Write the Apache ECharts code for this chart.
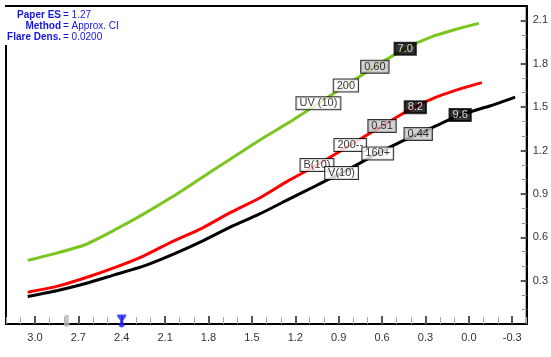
<!DOCTYPE html>
<html><head><meta charset="utf-8">
<script src="https://cdn.jsdelivr.net/npm/echarts@6/dist/echarts.min.js"></script>
<style>html,body{margin:0;padding:0;background:#fff}#c{width:551px;height:357px}</style>
</head><body><div id="c"></div>
<script>
// ---- data ----
const uvX = [3.05, 2.85, 2.65, 2.45, 2.25, 2.05, 1.85, 1.65, 1.45, 1.25, 1.05, 0.85, 0.65, 0.45, 0.25, 0.05, -0.07];
const uvY = [0.44, 0.49, 0.55, 0.65, 0.76, 0.88, 1.01, 1.14, 1.27, 1.39, 1.52, 1.65, 1.78, 1.90, 1.99, 2.05, 2.08];
const bX = [3.05, 2.85, 2.65, 2.45, 2.25, 2.05, 1.85, 1.65, 1.45, 1.25, 1.05, 0.85, 0.65, 0.45, 0.25, 0.05, -0.09];
const bY = [0.22, 0.26, 0.32, 0.39, 0.47, 0.57, 0.66, 0.77, 0.87, 0.99, 1.10, 1.22, 1.34, 1.46, 1.56, 1.63, 1.67];
const vX = [3.05, 2.85, 2.65, 2.45, 2.25, 2.05, 1.85, 1.65, 1.45, 1.25, 1.05, 0.85, 0.65, 0.45, 0.25, 0.05, -0.15, -0.32];
const vY = [0.19, 0.23, 0.28, 0.34, 0.40, 0.48, 0.57, 0.67, 0.76, 0.86, 0.96, 1.06, 1.17, 1.27, 1.36, 1.45, 1.51, 1.57];

const uvTags = [[1.04, 'UV (10)', 'w'], [0.85, '200', 'w'], [0.65, '0.60', 'g'], [0.44, '7.0', 'k']];
const bTags  = [[1.05, 'B(10)', 'w'], [0.82, '200--', 'w'], [0.60, '0.51', 'g'], [0.37, '8.2', 'k']];
const vTags  = [[0.88, 'V(10)', 'w'], [0.63, '160+', 'w'], [0.35, '0.44', 'g'], [0.06, '9.6', 'k']];

const xMajorTicks = [3.0, 2.7, 2.4, 2.1, 1.8, 1.5, 1.2, 0.9, 0.6, 0.3, 0.0, -0.3];
const xMinorTicks = [3.2, 3.1, 2.9, 2.8, 2.6, 2.5, 2.3, 2.2, 2.0, 1.9, 1.7, 1.6, 1.4, 1.3, 1.1, 1.0, 0.8, 0.7, 0.5, 0.4, 0.2, 0.1, -0.1, -0.2, -0.4];
const yMajorTicks = [0.3, 0.6, 0.9, 1.2, 1.5, 1.8, 2.1];
const yMinorTicks = [0.1, 0.2, 0.4, 0.5, 0.7, 0.8, 1.0, 1.1, 1.3, 1.4, 1.6, 1.7, 1.9, 2.0];

const grayPinX = [2.78];
const bluePinX = [2.40];

const infoKeys = ['Paper ES', 'Method', 'Flare Dens.'];
const infoVals = ['= 1.27', '= Approx. CI', '= 0.0200'];

// ---- helpers ----
function yAt(xs, ys, x) {
  for (let i = 0; i < xs.length - 1; i++) {
    const a = xs[i], b = xs[i + 1];
    if ((x <= a && x >= b) || (x >= a && x <= b)) {
      const t = (x - a) / (b - a);
      return ys[i] + t * (ys[i + 1] - ys[i]);
    }
  }
  return ys[ys.length - 1];
}
const tagStyles = {
  w: { backgroundColor: '#fff', color: '#000' },
  g: { backgroundColor: '#c8c8c8', color: '#000' },
  k: { backgroundColor: '#000', color: '#fff' }
};
function tagSeries(tags, xs, ys) {
  return {
    type: 'scatter', symbolSize: 1, itemStyle: { color: 'rgba(0,0,0,0)' }, z: 10, zlevel: 1, silent: true,
    data: tags.map(t => ({
      value: [t[0], yAt(xs, ys, t[0])],
      label: Object.assign({
        show: true, position: 'inside', formatter: t[1],
        fontFamily: 'Liberation Sans', fontSize: 11, lineHeight: 11,
        borderColor: '#000', borderWidth: 1, padding: [1, 3, 0, 3]
      }, tagStyles[t[2]])
    }))
  };
}
const zip = (xs, ys) => xs.map((x, i) => [x, ys[i]]);
const font = 'Liberation Sans';

const chart = echarts.init(document.getElementById('c'));
chart.setOption({
  animation: false,
  grid: { left: 6, right: 24, top: 6, bottom: 33, show: true, borderColor: '#000', borderWidth: 2, backgroundColor: '#fff' },
  xAxis: [{
    type: 'value', min: -0.4, max: 3.2, inverse: true, position: 'bottom', offset: 0,
    axisLine: { show: true, onZero: false, lineStyle: { color: '#000', width: 2 } },
    axisTick: { show: true, inside: true, length: 8, customValues: xMajorTicks, lineStyle: { color: '#555', width: 2 } },
    axisLabel: { customValues: xMajorTicks, formatter: v => v.toFixed(1), color: '#333', fontFamily: font, fontSize: 11, margin: 8 },
    splitLine: { show: false }
  }, {
    type: 'value', min: -0.4, max: 3.2, inverse: true, position: 'bottom', offset: 0,
    axisLine: { show: false, onZero: false },
    axisTick: { show: true, inside: true, length: 7, customValues: xMinorTicks, lineStyle: { color: '#aaa', width: 1 } },
    axisLabel: { show: false }, splitLine: { show: false }
  }, {
    type: 'value', min: -0.4, max: 3.2, inverse: true, position: 'top', offset: 0,
    axisLine: { show: true, onZero: false, lineStyle: { color: '#000', width: 2 } },
    axisTick: { show: false }, axisLabel: { show: false }, splitLine: { show: false }
  }],
  yAxis: [{
    type: 'value', min: 0, max: 2.2, position: 'right', offset: 0,
    axisLine: { show: true, onZero: false, lineStyle: { color: '#000', width: 2 } },
    axisTick: { show: true, inside: true, length: 6, customValues: yMajorTicks, lineStyle: { color: '#555', width: 2 } },
    axisLabel: { customValues: yMajorTicks, formatter: v => v.toFixed(1), color: '#333', fontFamily: font, fontSize: 11, margin: 6 },
    splitLine: { show: false }
  }, {
    type: 'value', min: 0, max: 2.2, position: 'right', offset: 0,
    axisLine: { show: false, onZero: false },
    axisTick: { show: true, inside: true, length: 5, customValues: yMinorTicks, lineStyle: { color: '#999', width: 1 } },
    axisLabel: { show: false }, splitLine: { show: false }
  }, {
    type: 'value', min: 0, max: 2.2, position: 'left', offset: 0,
    axisLine: { show: true, onZero: false, lineStyle: { color: '#000', width: 2 } },
    axisTick: { show: false }, axisLabel: { show: false }, splitLine: { show: false }
  }],
  series: [
    { type: 'line', data: zip(uvX, uvY), symbol: 'none', smooth: 0.2, lineStyle: { color: '#7ac51e', width: 3 } },
    { type: 'line', data: zip(bX, bY), symbol: 'none', smooth: 0.2, lineStyle: { color: '#ff0000', width: 3 } },
    { type: 'line', data: zip(vX, vY), symbol: 'none', smooth: 0.2, lineStyle: { color: '#000000', width: 3 } },
    tagSeries(uvTags, uvX, uvY),
    tagSeries(bTags, bX, bY),
    tagSeries(vTags, vX, vY),
    { type: 'scatter', clip: false, z: 20, silent: true, data: grayPinX.map(x => [x, 0]),
      symbol: 'path://M1,0 L5,0 L5,8 C6.5,8.5 6.5,12 3,12 C-0.5,12 -0.5,8.5 1,8 Z',
      symbolSize: [6, 12], symbolOffset: [0, -3], itemStyle: { color: '#b8b8b8' } },
    { type: 'scatter', clip: false, z: 20, silent: true, data: bluePinX.map(x => [x, 0]),
      symbol: 'path://M0,0 L9,0 L9,2 L6,6 L6,8 C8,9 8,13 4.5,13 C1,13 1,9 3,8 L3,6 L0,2 Z',
      symbolSize: [9, 13], symbolOffset: [0, -3], itemStyle: { color: '#1a1aff' } }
  ],
  graphic: [
    { type: 'rect', left: 0, top: 7, shape: { width: 150, height: 38 }, style: { fill: '#fff' }, z: 50 }
  ].concat(infoKeys.map((k, i) => ({
    type: 'text', x: 61, y: 15 + i * 11, z: 60,
    style: { text: k, textAlign: 'right', textVerticalAlign: 'middle', fill: '#1515e0', font: 'bold 10px "Liberation Sans"' }
  }))).concat(infoVals.map((v, i) => ({
    type: 'text', x: 63, y: 15 + i * 11, z: 60,
    style: { text: v, textAlign: 'left', textVerticalAlign: 'middle', fill: '#1515e0', font: '10px "Liberation Sans"' }
  })))
});
</script></body></html>
